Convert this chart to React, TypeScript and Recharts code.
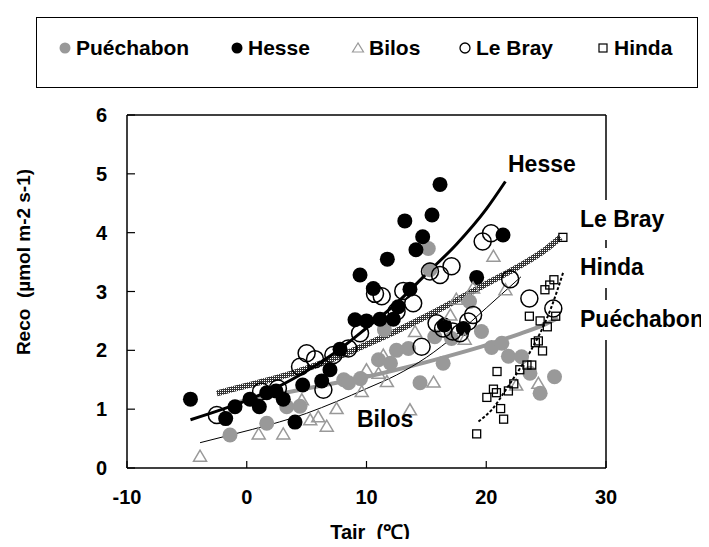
import React from 'react';
import { ComposedChart, Scatter, Line, XAxis, YAxis, ReferenceLine } from 'recharts';

const FONT = '"Liberation Sans", Arial, sans-serif';

// axis ticks
const xTicks = [-10, 0, 10, 20, 30];
const yTicks = [0, 1, 2, 3, 4, 5, 6];

// observations: [Tair (°C), Reco]
const puechabonObs = [
  [-1.4, 0.56], [1.67, 0.76], [3.34, 1.04], [4.45, 1.05], [8.1, 1.5], [8.5, 1.45], [9.5, 1.52],
  [11.0, 1.84], [11.5, 2.35], [12.0, 1.78], [12.5, 2.0], [13.5, 2.03], [14.47, 1.45], [15.16, 3.73],
  [15.3, 3.37], [15.7, 2.23], [16.4, 1.78], [17.1, 2.2], [18.6, 2.83], [19.6, 2.32], [20.45, 2.05],
  [21.3, 2.12], [21.85, 1.9], [22.95, 1.89], [23.65, 1.61], [24.5, 1.27], [25.7, 1.55],
];
const hesseObs = [
  [-4.7, 1.17], [-1.76, 0.84], [-0.98, 1.04], [0.27, 1.17], [1.05, 1.04], [1.67, 1.28], [2.44, 1.31],
  [3.05, 1.17], [4.03, 0.78], [4.67, 1.41], [6.26, 1.48], [6.95, 1.67], [7.79, 2.02], [9.04, 2.52],
  [9.46, 3.28], [10.0, 2.5], [10.57, 3.05], [11.13, 2.53], [11.74, 3.55], [12.24, 2.53], [12.65, 2.74],
  [13.2, 4.2], [13.63, 3.04], [14.13, 3.71], [14.69, 3.93], [15.47, 4.3], [16.14, 4.82], [16.5, 2.43],
  [18.09, 2.37], [19.2, 3.24], [21.4, 3.96],
];
const bilosObs = [
  [-3.9, 0.2], [1.0, 0.58], [3.05, 0.58], [4.6, 1.16], [5.3, 0.82], [5.97, 0.87], [6.68, 0.71],
  [7.5, 1.01], [9.6, 1.3], [10.0, 1.67], [11.0, 1.61], [11.4, 1.92], [11.7, 1.47], [13.63, 0.99],
  [14.05, 2.32], [15.6, 1.46], [17.0, 2.6], [17.5, 2.87], [18.2, 2.19], [18.9, 3.06], [20.6, 3.6],
  [21.6, 3.03], [22.5, 1.41], [24.35, 1.44],
];
const leBrayObs = [
  [-2.5, 0.9], [1.2, 1.3], [2.6, 1.35], [4.45, 1.72], [5.0, 1.95], [5.7, 1.85], [6.4, 1.33],
  [7.23, 1.92], [8.48, 2.03], [9.46, 2.29], [10.71, 2.96], [11.27, 2.92], [12.51, 2.66], [13.07, 3.01],
  [13.9, 2.8], [14.6, 2.06], [15.3, 3.34], [15.85, 2.46], [16.14, 3.28], [16.4, 2.37], [17.1, 3.43],
  [17.2, 2.32], [17.8, 2.29], [18.5, 2.49], [18.9, 2.6], [19.7, 3.85], [20.4, 3.99], [22.0, 3.21],
  [23.6, 2.88], [25.6, 2.71],
];
const hindaObs = [
  [19.2, 0.58], [20.05, 1.2], [20.6, 1.34], [20.85, 1.28], [20.9, 1.64], [21.2, 1.01], [21.45, 0.83],
  [21.85, 1.31], [22.3, 1.43], [22.8, 1.67], [23.4, 1.75], [23.8, 1.75], [23.6, 2.58], [24.1, 2.13],
  [24.35, 2.16], [24.7, 1.99], [24.5, 2.5], [25.1, 2.4], [24.9, 3.03], [25.3, 3.11], [25.65, 3.2],
  [25.8, 2.58], [26.4, 3.92],
];

// fitted curves
const hesseFit = [
  [-4.7, 0.82], [-2, 1.0], [0, 1.15], [2.5, 1.37], [5, 1.65], [7.5, 1.98], [10, 2.38],
  [12.5, 2.8], [15, 3.3], [17.5, 3.8], [20, 4.4], [21.6, 4.87],
];
const leBrayFit = [
  [-2.5, 1.27], [0, 1.4], [2.5, 1.53], [5, 1.69], [7.5, 1.88], [10, 2.1], [12.5, 2.33],
  [15, 2.58], [17.5, 2.85], [20, 3.13], [22.5, 3.4], [25, 3.72], [26.2, 3.92],
];
const puechabonFit = [
  [-1.3, 1.1], [0, 1.15], [2.5, 1.25], [5, 1.35], [7.5, 1.45], [10, 1.55], [12.5, 1.67],
  [15, 1.8], [17.5, 1.94], [20, 2.09], [22.5, 2.26], [25, 2.45], [26, 2.55],
];
const bilosFit = [
  [-3.9, 0.43], [-1, 0.58], [2, 0.74], [5, 0.93], [7.5, 1.13], [10, 1.35], [12.5, 1.58],
  [15, 1.88], [17.5, 2.27], [20, 2.72], [22.9, 3.25],
];
const hindaFit = [
  [19.35, 0.79], [20.5, 1.0], [21.7, 1.35], [22.9, 1.72], [23.9, 2.06], [25.3, 2.66], [26.45, 3.34],
];

const pts = (arr: number[][]) => arr.map(([x, y]) => ({ x, y }));

const GreyDot = ({ cx, cy }: any) => <circle cx={cx} cy={cy} r={7.5} fill="#999" />;
const BlackDot = ({ cx, cy }: any) => <circle cx={cx} cy={cy} r={7.5} fill="#000" />;
const OpenCircle = ({ cx, cy }: any) => (
  <circle cx={cx} cy={cy} r={8.5} fill="none" stroke="#000" strokeWidth={1.5} />
);
const Triangle = ({ cx, cy }: any) => (
  <polygon
    points={`${cx},${cy - 6} ${cx - 6.5},${cy + 5} ${cx + 6.5},${cy + 5}`}
    fill="none"
    stroke="#999"
    strokeWidth={1.5}
  />
);
const Square = ({ cx, cy }: any) => (
  <rect x={cx - 4} y={cy - 4} width={8} height={8} fill="none" stroke="#000" strokeWidth={1.3} />
);

const YTick = ({ x, y, payload }: any) => (
  <g>
    <text x={x} y={y} textAnchor="end" dominantBaseline="central" fontSize={20} fontWeight="bold" fontFamily={FONT} fill="#000">
      {payload.value}
    </text>
    <line x1={x + 20} x2={x + 28} y1={y} y2={y} stroke="#000" strokeWidth={1.2} />
  </g>
);

const XTick = ({ x, y, payload }: any) => (
  <g>
    <text x={x} y={y + 9} textAnchor="middle" dominantBaseline="central" fontSize={20} fontWeight="bold" fontFamily={FONT} fill="#000">
      {payload.value}
    </text>
    <line x1={x} x2={x} y1={y - 20} y2={y - 27} stroke="#000" strokeWidth={1.2} />
  </g>
);

const legendItems = [
  { name: 'Puéchabon', marker: 'grey', left: 64 },
  { name: 'Hesse', marker: 'black', left: 236 },
  { name: 'Bilos', marker: 'tri', left: 357 },
  { name: 'Le Bray', marker: 'open', left: 464 },
  { name: 'Hinda', marker: 'sq', left: 602 },
];

const LegendMarker = ({ type }: { type: string }) => (
  <svg width={14} height={14} style={{ display: 'block' }}>
    {type === 'grey' && <circle cx={7} cy={7} r={5.5} fill="#999" />}
    {type === 'black' && <circle cx={7} cy={7} r={5.5} fill="#000" />}
    {type === 'open' && <circle cx={7} cy={7} r={5} fill="none" stroke="#000" strokeWidth={1.3} />}
    {type === 'tri' && <polygon points="7,2 1.5,11 12.5,11" fill="none" stroke="#999" strokeWidth={1.2} />}
    {type === 'sq' && <rect x={3} y={3} width={8} height={8} fill="none" stroke="#000" strokeWidth={1.2} />}
  </svg>
);

const textStyle = { fontFamily: FONT, fontWeight: 'bold' as const, fill: '#000' };

export default function App() {
  return (
    <div style={{ position: 'relative', width: 709, height: 547, margin: -8, background: '#fff' }}>
      {/* legend box */}
      <div
        style={{
          position: 'absolute', left: 36, top: 17, width: 662, height: 71,
          border: '1px solid #000', boxSizing: 'border-box',
          fontFamily: FONT, fontWeight: 'bold', fontSize: 21,
        }}
      >
        {legendItems.map((it) => (
          <div key={it.name} style={{ position: 'absolute', left: it.left - 43, top: 18, display: 'flex', alignItems: 'center', gap: 4 }}>
            <LegendMarker type={it.marker} />
            <span style={{ lineHeight: '24px' }}>{it.name}</span>
          </div>
        ))}
      </div>

      <div style={{ position: 'absolute', left: 0, top: 0 }}>
        <ComposedChart width={709} height={547} margin={{ top: 115, right: 103, bottom: 0, left: 0 }}>
          <defs>
            <pattern id="chk" width={2} height={2} patternUnits="userSpaceOnUse">
              <rect width={2} height={2} fill="#333" />
              <rect width={1} height={1} fill="#fff" />
            </pattern>
          </defs>
          <XAxis
            type="number" dataKey="x" domain={[-10, 30]} ticks={xTicks} allowDataOverflow
            height={79} tickSize={0} tickMargin={20} tickLine={false}
            axisLine={{ stroke: '#000', strokeWidth: 1.5 }} tick={<XTick />}
          />
          <YAxis
            type="number" dataKey="y" domain={[0, 6]} ticks={yTicks} allowDataOverflow
            width={127} tickSize={0} tickMargin={20} tickLine={false}
            axisLine={{ stroke: '#000', strokeWidth: 1.5 }} tick={<YTick />}
          />
          <ReferenceLine y={6} stroke="#000" strokeWidth={1.5} />
          <ReferenceLine x={30} stroke="#000" strokeWidth={1.5} />

          <Scatter data={pts(puechabonObs)} dataKey="y" shape={<GreyDot />} isAnimationActive={false} />
          <Scatter data={pts(hesseObs)} dataKey="y" shape={<BlackDot />} isAnimationActive={false} />
          <Scatter data={pts(bilosObs)} dataKey="y" shape={<Triangle />} isAnimationActive={false} />
          <Scatter data={pts(leBrayObs)} dataKey="y" shape={<OpenCircle />} isAnimationActive={false} />
          <Scatter data={pts(hindaObs)} dataKey="y" shape={<Square />} isAnimationActive={false} />

          <Line data={pts(puechabonFit)} dataKey="y" type="monotone" dot={false} stroke="#999" strokeWidth={4} isAnimationActive={false} />
          <Line data={pts(bilosFit)} dataKey="y" type="monotone" dot={false} stroke="#000" strokeWidth={1} isAnimationActive={false} />
          <Line data={pts(leBrayFit)} dataKey="y" type="monotone" dot={false} stroke="url(#chk)" strokeWidth={6} isAnimationActive={false} />
          <Line data={pts(hesseFit)} dataKey="y" type="monotone" dot={false} stroke="#000" strokeWidth={3} isAnimationActive={false} />
          <Line data={pts(hindaFit)} dataKey="y" type="monotone" dot={false} stroke="#000" strokeWidth={2} strokeDasharray="3 2" isAnimationActive={false} />
        </ComposedChart>
      </div>

      {/* titles and curve labels */}
      <svg width={709} height={547} style={{ position: 'absolute', left: 0, top: 0, pointerEvents: 'none' }}>
        <text x={23} y={262} transform="rotate(-90 23 262)" textAnchor="middle" dominantBaseline="central" fontSize={19} style={{ whiteSpace: 'pre' }} {...textStyle}>
          Reco  (µmol m-2 s-1)
        </text>
        <text x={370} y={539} textAnchor="middle" fontSize={20} style={{ whiteSpace: 'pre' }} {...textStyle}>Tair  (℃)</text>
        <text x={508} y={172} fontSize={23} {...textStyle}>Hesse</text>
        <text x={357} y={427} fontSize={23} {...textStyle}>Bilos</text>
        <rect x={578} y={200} width={131} height={40} fill="#fff" />
        <text x={580} y={227} fontSize={23} {...textStyle}>Le Bray</text>
        <rect x={578} y={248} width={131} height={40} fill="#fff" />
        <text x={580} y={275} fontSize={23} {...textStyle}>Hinda</text>
        <rect x={578} y={300} width={131} height={40} fill="#fff" />
        <text x={580} y={327} fontSize={23} {...textStyle}>Puéchabon</text>
      </svg>
    </div>
  );
}
